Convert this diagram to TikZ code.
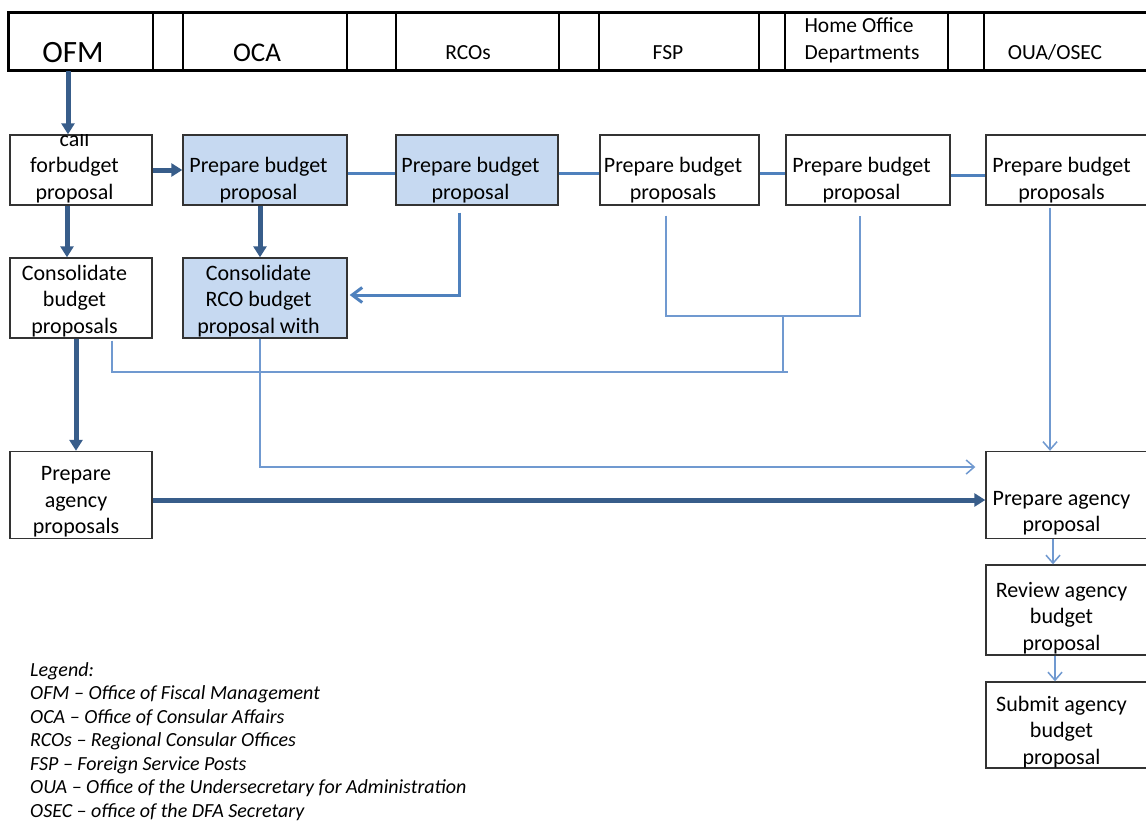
\documentclass[tikz,border=0pt]{standalone}
\usepackage{fontspec}
\setmainfont{Carlito}
\usetikzlibrary{arrows.meta,calc}
\definecolor{boxfill}{HTML}{C6D9F1}
\definecolor{flowdark}{HTML}{385D8A}
\definecolor{flowmid}{HTML}{4F81BD}
\definecolor{flowthin}{HTML}{7099D0}
\tikzset{
	stepbox/.style={draw=black!80, line width=1.4pt, inner sep=0pt},
	rcobox/.style={stepbox, fill=boxfill},
	boxtext/.style={inner sep=0pt, align=center, xshift=-6.5pt, font=\fontsize{22}{26.5}\selectfont},
	headlbl/.style={anchor=base, inner sep=0pt, font=\fontsize{21.5}{26.5}\selectfont},
	bigflow/.style={draw=flowdark, line width=5pt, -{Triangle[length=11pt,width=13pt]}},
	midflow/.style={draw=flowmid, line width=3pt},
	thinflow/.style={draw=flowthin, line width=1.5pt}
}

\begin{document}
\begin{tikzpicture}[x=1pt, y=-1pt]
		%%%%% START %%%%%
		\useasboundingbox[fill=white] (0,0) rectangle (1146,823);
		
		% lanes
		\draw[line width=3pt] (8, 12) rectangle (1152, 70);
		\foreach \lx in {153, 183, 347, 396, 559, 599, 759, 785, 948, 984}
			\draw[line width=1.4pt] (\lx, 12) -- (\lx, 70);
		\node[headlbl, font=\fontsize{31}{34}\selectfont] (hofm) at (73, 62) {OFM};
		\node[headlbl, font=\fontsize{27}{32}\selectfont] (hoca) at (257, 61) {OCA};
		\node[headlbl] (hrco) at (468, 59) {RCOs};
		\node[headlbl] (hfsp) at (668, 59) {FSP};
		\node[headlbl] (hhome) at (859, 32) {Home Office};
		\node[headlbl] (hdept) at (862, 59) {Departments};
		\node[headlbl] (houa) at (1055, 59) {OUA/OSEC};
		\coordinate (ofmtop) at (68, 71);
		
		% first row
		\node[stepbox, minimum width=142, minimum height=70] (ofmcall) at (81, 170) {};
		\begin{scope}
			\clip (ofmcall.north west) rectangle (ofmcall.south east);
			\node[boxtext] (ofmcalltxt) at (81, 167) {call\\forbudget\\proposal};
		\end{scope}
		\node[rcobox, minimum width=164, minimum height=70, label={[boxtext, yshift=-10pt]center:Prepare budget\\proposal}] (ocaprep) at (265, 170) {};
		\node[rcobox, minimum width=162, minimum height=70, label={[boxtext, yshift=-10pt]center:Prepare budget\\proposal}] (rcoprep) at (477, 170) {};
		\node[stepbox, minimum width=159, minimum height=70, label={[boxtext, yshift=-10pt]center:Prepare budget\\proposals}] (fspprep) at (679.5, 170) {};
		\node[stepbox, minimum width=164, minimum height=70, label={[boxtext, yshift=-10pt]center:Prepare budget\\proposal}] (hodprep) at (868, 170) {};
		\node[stepbox, minimum width=164, minimum height=70, label={[boxtext, yshift=-10pt]center:Prepare budget\\proposals}] (ouaprep) at (1068, 170) {};
		
		% second row
		\node[stepbox, minimum width=142, minimum height=80, label={[boxtext, yshift=-3pt]center:Consolidate\\budget\\proposals}] (ofmcons) at (81, 298) {};
		\node[rcobox, minimum width=164, minimum height=80, label={[boxtext, yshift=-3pt]center:Consolidate\\RCO budget\\proposal with}] (ocacons) at (265, 298) {};
		
		% agency proposal
		\node[stepbox, minimum width=142, minimum height=87, label={[boxtext, xshift=1.5pt, yshift=-7pt]center:Prepare\\agency\\proposals}] (ofmagency) at (81, 495) {};
		\node[stepbox, minimum width=164, minimum height=87, label={[boxtext, yshift=-18pt]center:Prepare agency\\proposal}] (ouaagency) at (1068, 495) {};
		\node[stepbox, minimum width=164, minimum height=90, label={[boxtext, yshift=-8pt]center:Review agency\\budget\\proposal}] (ouareview) at (1068, 610) {};
		\node[stepbox, minimum width=164, minimum height=86, label={[boxtext, yshift=-7pt]center:Submit agency\\budget\\proposal}] (ouasubmit) at (1068, 725) {};
		
		% thick flow
		\draw[bigflow] (ofmtop) -- (ofmtop |- ofmcall.north);
		\draw[bigflow] (ofmcall.east) -- (ocaprep.west);
		\draw[bigflow] ([xshift=-14]ofmcall.south) -- ([xshift=-14]ofmcons.north);
		\draw[bigflow] ([xshift=-5]ocaprep.south) -- ([xshift=-5]ocacons.north);
		\draw[bigflow] ([xshift=-5]ofmcons.south) -- ([xshift=-5]ofmagency.north);
		\draw[bigflow] ([yshift=-5]ofmagency.east) -- ([yshift=-5]ouaagency.west);
		
		% row links
		\draw[midflow] ([yshift=-3]ocaprep.east) -- ([yshift=-3]rcoprep.west);
		\draw[midflow] ([yshift=-3]rcoprep.east) -- ([yshift=-3]fspprep.west);
		\draw[midflow] ([yshift=-3]fspprep.east) -- ([yshift=-3]hodprep.west);
		\draw[midflow] ([yshift=-5]hodprep.east) -- ([yshift=-5]ouaprep.west);
		\draw[midflow, -{Straight Barb[length=10pt,width=15pt]}] ([xshift=-18,yshift=-7]rcoprep.south) |- ([xshift=2,yshift=3]ocacons.east);
		
		% thin flow
		\coordinate (joinfh) at (783, 316);
		\coordinate (joinlow) at (788, 372);
		\draw[thinflow] ([xshift=-13.5,yshift=-10]fspprep.south) |- (joinfh) -| ([xshift=-8,yshift=-10]hodprep.south);
		\draw[thinflow] (joinfh) -- (joinfh |- joinlow);
		\draw[thinflow] ([xshift=31,yshift=-2]ofmcons.south) |- (joinlow);
		\draw[thinflow, -{Straight Barb[length=8pt,width=14pt]}] ([xshift=-5]ocacons.south) |- ([xshift=-10,yshift=28]ouaagency.west);
		\draw[thinflow, -{Straight Barb[length=8pt,width=14pt]}] ([xshift=-18,yshift=-2]ouaprep.south) -- ([xshift=-18]ouaagency.north);
		\draw[thinflow, -{Straight Barb[length=8pt,width=14pt]}] ([xshift=-15]ouaagency.south) -- ([xshift=-15]ouareview.north);
		\draw[thinflow, -{Straight Barb[length=8pt,width=14pt]}] ([xshift=-13]ouareview.south) -- ([xshift=-13]ouasubmit.north);
		
		% legend
		\node[anchor=north west, align=left, inner sep=0pt, font=\itshape\fontsize{20}{23.5}\selectfont] (legend) at (30, 662) {Legend:\\
			OFM – Office of Fiscal Management\\
			OCA – Office of Consular Affairs\\
			RCOs – Regional Consular Offices\\
			FSP – Foreign Service Posts\\
			OUA – Office of the Undersecretary for Administration\\
			OSEC – office of the DFA Secretary};
		
		%%%%% END %%%%%
	\end{tikzpicture}
\end{document}
